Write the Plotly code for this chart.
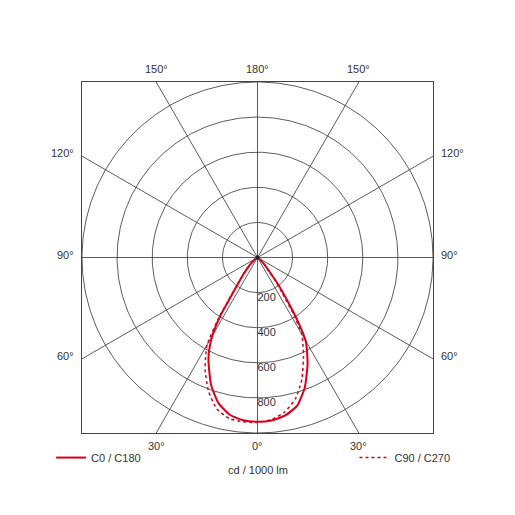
import numpy as np
import plotly.graph_objects as go

# ---- data (cd / 1000 lm) ----
angles = [0, 5, 10, 15, 20, 25, 27.5, 30, 32.5, 35, 37.5, 40, 45, 50, 55, 60, 70, 80, 90]
c0   = [936, 932, 914, 874, 788, 675, 612, 550, 420, 285, 190, 110, 55, 25, 10, 3, 0, 0, 0]  # right half, solid
c180 = [936, 931, 910, 859, 773, 660, 597, 515, 395, 235, 168, 125, 70, 35, 15, 5, 0, 0, 0]  # left half, solid
c90  = [938, 927, 894, 834, 739, 620, 561, 505, 380, 240, 165, 100, 50, 22, 8, 0, 0, 0, 0]   # right half, dotted
c270 = [940, 940, 931, 894, 814, 707, 640, 575, 420, 250, 170, 115, 60, 30, 12, 3, 0, 0, 0]  # left half, dotted

ring_values = [200, 400, 600, 800, 1000]
ring_labels = ["200", "400", "600", "800"]
angle_ticks = [0, 30, 60, 90, 120, 150, 180]
series_names = ["C0 / C180", "C90 / C270"]
unit_label = "cd / 1000 lm"

RMAX = 1000
RED = "#d9001b"
GRID = "#333333"
TXT = "#333333"
FONT = "Liberation Sans, Arial, sans-serif"

def half_to_xy(vals, side):
    a = np.radians(np.array(angles, dtype=float))
    v = np.array(vals, dtype=float)
    return side * v * np.sin(a), -v * np.cos(a)

def full_curve(left, right):
    xl, yl = half_to_xy(left, -1)
    xr, yr = half_to_xy(right, 1)
    x = np.concatenate([xl[::-1], xr[1:]])
    y = np.concatenate([yl[::-1], yr[1:]])
    return x, y

fig = go.Figure()

# rings
t = np.linspace(0, 2 * np.pi, 361)
rx, ry = [], []
for r in ring_values:
    rx += list(r * np.cos(t)) + [None]
    ry += list(r * np.sin(t)) + [None]
fig.add_trace(go.Scatter(x=rx, y=ry, mode="lines", line=dict(color=GRID, width=0.8),
                         hoverinfo="skip", showlegend=False))

# radial spokes to the frame
sx, sy = [], []
for a in range(0, 360, 30):
    dx, dy = np.sin(np.radians(a)), -np.cos(np.radians(a))
    k = RMAX / max(abs(dx), abs(dy))
    sx += [0, dx * k, None]
    sy += [0, dy * k, None]
fig.add_trace(go.Scatter(x=sx, y=sy, mode="lines", line=dict(color=GRID, width=0.8),
                         hoverinfo="skip", showlegend=False))

# curves
x1, y1 = full_curve(c180, c0)
fig.add_trace(go.Scatter(x=x1, y=y1, mode="lines", name=series_names[0],
                         line=dict(color=RED, width=2, shape="spline", smoothing=0.5),
                         legend="legend"))
x2, y2 = full_curve(c270, c90)
fig.add_trace(go.Scatter(x=x2, y=y2, mode="lines", name=series_names[1],
                         line=dict(color=RED, width=1.5, dash="dot", shape="spline", smoothing=0.5),
                         legend="legend2"))

# center dot
fig.add_trace(go.Scatter(x=[0], y=[0], mode="markers", marker=dict(color="#222", size=4),
                         hoverinfo="skip", showlegend=False))

# radial value labels
fig.add_trace(go.Scatter(x=[0] * len(ring_labels), y=[-v for v in ring_values[:len(ring_labels)]],
                         mode="text", text=ring_labels, textposition="bottom right",
                         textfont=dict(family=FONT, size=11, color=TXT),
                         hoverinfo="skip", showlegend=False))

# angle labels at the frame
annotations = []
for a in angle_ticks:
    for side in ([1] if a in (0, 180) else [-1, 1]):
        dx, dy = side * np.sin(np.radians(a)), -np.cos(np.radians(a))
        k = RMAX / max(abs(dx), abs(dy))
        px, py = dx * k, dy * k
        ann = dict(x=px, y=py, xref="x", yref="y", text=f"{a}°", showarrow=False,
                   font=dict(family=FONT, size=11, color=TXT))
        if abs(dy) >= abs(dx) - 1e-9:
            ann.update(yshift=-13 if dy < 0 else 13, xanchor="center", yanchor="middle")
        else:
            ann.update(xshift=-6 if dx < 0 else 6, xanchor="right" if dx < 0 else "left",
                       yanchor="middle", yshift=3)
        annotations.append(ann)

annotations.append(dict(x=0.5, y=0, xref="paper", yref="paper", yshift=-37, text=unit_label,
                        showarrow=False, xanchor="center", yanchor="middle",
                        font=dict(family=FONT, size=11, color=TXT)))

axis_common = dict(range=[-RMAX, RMAX], showgrid=False, zeroline=False, showticklabels=False,
                   ticks="", showline=True, mirror=True, linecolor="#444", linewidth=1,
                   fixedrange=True)

fig.update_layout(
    width=515, height=515,
    margin=dict(l=74, r=90, t=74, b=90),
    paper_bgcolor="white", plot_bgcolor="white",
    xaxis=axis_common, yaxis=axis_common,
    annotations=annotations,
    font=dict(family=FONT, size=11, color=TXT),
    legend=dict(x=-0.088, y=-0.07, xanchor="left", yanchor="middle", orientation="h",
                bgcolor="rgba(0,0,0,0)", font=dict(family=FONT, size=11, color=TXT),
                itemwidth=30),
    legend2=dict(x=1.064, y=-0.07, xanchor="right", yanchor="middle", orientation="h",
                 bgcolor="rgba(0,0,0,0)", font=dict(family=FONT, size=11, color=TXT),
                 itemwidth=30),
)

fig.write_html("out.html")
